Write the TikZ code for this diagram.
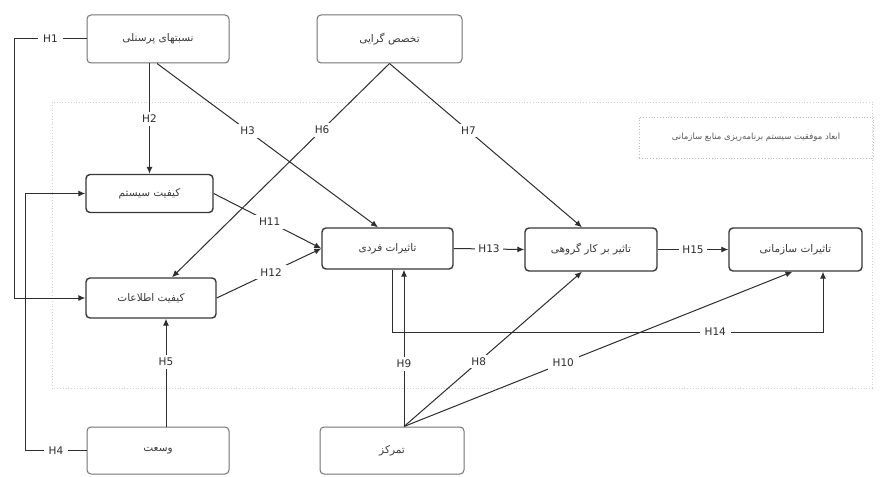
\documentclass[tikz,border=0pt]{standalone}
\usepackage{fontspec}
\setmainfont{DejaVu Sans}
\newfontfamily\arabicfont[Script=Arabic]{DejaVu Sans}
\TeXXeTstate=1
\usetikzlibrary{arrows.meta}
\definecolor{lineC}{HTML}{2E2E2E}
\definecolor{txtC}{HTML}{3A3A3A}
\tikzset{
  outerbox/.style={draw=black!55, line width=1pt, rounded corners=4pt, fill=white,
    font=\arabicfont\fontsize{10.5}{12}\selectfont, text=txtC, inner sep=0pt},
  innerbox/.style={draw=black!78, line width=1.4pt, rounded corners=4pt, fill=white,
    font=\arabicfont\fontsize{10.5}{12}\selectfont, text=txtC, inner sep=0pt},
  conn/.style={draw=lineC, line width=1pt},
  arr/.style={conn, -{Latex[length=7pt,width=6pt]}},
  hlab/.style={fill=white, font=\fontsize{10.5}{12}\selectfont, text=lineC, inner xsep=5pt, inner ysep=3pt},
}
\begin{document}
\begin{tikzpicture}[x=1pt,y=-1pt]
\useasboundingbox (0,0) rectangle (882,476);
\fill[white] (0,0) rectangle (882,476);
% dotted frame
\draw[black!18, line width=0.8pt, dotted] (52,102) rectangle (872,388);
\node[draw=black!25, line width=0.8pt, dotted, minimum width=234pt, minimum height=41pt,
  inner sep=0pt, font=\arabicfont\fontsize{8.5}{10}\selectfont, text=black!65]
  (lbl) at (756,137.5) {\beginR ابعاد موفقیت سیستم برنامه‌ریزی منابع سازمانی\endR};
% boxes
\node[outerbox, minimum width=142pt, minimum height=48pt] (pers) at (158,39) {\beginR نسبتهای پرسنلی\endR};
\node[outerbox, minimum width=145pt, minimum height=48pt] (spec) at (389.5,39) {\beginR تخصص گرایی\endR};
\node[innerbox, minimum width=127pt, minimum height=38pt] (sysq) at (149.5,193.5) {\beginR کیفیت سیستم\endR};
\node[innerbox, minimum width=130pt, minimum height=40pt] (infq) at (151,298) {\beginR کیفیت اطلاعات\endR};
\node[innerbox, minimum width=131pt, minimum height=41pt] (indiv) at (387.5,248.5) {\beginR تاثیرات فردی\endR};
\node[innerbox, minimum width=132pt, minimum height=43pt] (group) at (591,249.5) {\beginR تاثیر بر کار گروهی\endR};
\node[innerbox, minimum width=133pt, minimum height=43pt] (org) at (795.5,249.5) {\beginR تاثیرات سازمانی\endR};
\node[outerbox, minimum width=142pt, minimum height=47pt] (ext) at (158,450.5) {\beginR وسعت\endR};
\node[outerbox, minimum width=144pt, minimum height=47pt] (cent) at (392,450.5) {\beginR تمرکز\endR};
% helper coordinates
\coordinate (ct) at ([xshift=12pt]cent.north);
\coordinate (h14a) at ([xshift=4.5pt]indiv.south);
\coordinate (h14b) at ([xshift=27.5pt]org.south);
% H1, H4
\draw[arr] (pers.west) -- node[hlab]{H1} ++(-72,0) |- (infq.west);
\draw[arr] (ext.west) -- node[hlab]{H4} ++(-61,0) |- (sysq.west);
% H2
\draw[arr] (sysq.north |- pers.south) -- node[hlab]{H2} (sysq.north);
% H3, H6, H7
\draw[arr] ([xshift=-1pt]pers.south) -- node[hlab, pos=0.41]{H3} ([xshift=-9.5pt]indiv.north);
\draw[arr] (spec.south) -- node[hlab, pos=0.31]{H6} ([xshift=21pt]infq.north);
\draw[arr] (spec.south) -- node[hlab, pos=0.41]{H7} ([xshift=-9pt]group.north);
% H5
\draw[arr] ([xshift=8pt]ext.north) -- node[hlab, pos=0.6]{H5} ([xshift=8pt]ext.north |- infq.south);
% H11, H12
\draw[arr] (sysq.east) -- node[hlab, pos=0.52]{H11} (indiv.west);
\draw[arr] (infq.east) -- node[hlab, pos=0.52]{H12} (indiv.west);
% H13, H15
\draw[arr] (indiv.east) -- node[hlab, inner xsep=3pt]{H13} (group.west);
\draw[arr] (group.east) -- node[hlab, inner xsep=3pt]{H15} (org.west);
% H14
\draw[arr] (h14a) -- (h14a |- 0,332) -- node[hlab, pos=0.75]{H14} (h14b |- 0,332) -- (h14b);
% H9, H8, H10
\draw[arr] (ct) -- node[hlab, pos=0.4]{H9} (ct |- indiv.south);
\draw[arr] (ct) -- node[hlab, pos=0.42]{H8} ([xshift=-9pt]group.south);
\draw[arr] (ct) -- node[hlab, pos=0.41]{H10} ([xshift=-3pt]org.south);
\end{tikzpicture}
\end{document}
